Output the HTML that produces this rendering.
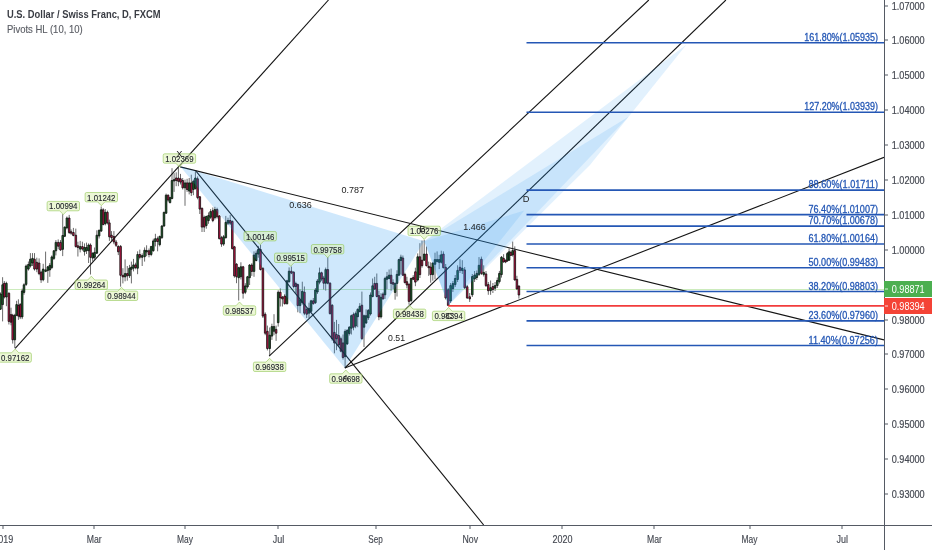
<!DOCTYPE html>
<html><head><meta charset="utf-8"><title>USDCHF chart</title>
<style>html,body{margin:0;padding:0;background:#fff;overflow:hidden}svg{display:block}</style></head>
<body>
<svg width="932" height="550" viewBox="0 0 932 550" font-family="'Liberation Sans', sans-serif">
<rect width="932" height="550" fill="#fff"/>
<defs><clipPath id="cp"><rect x="0" y="0" width="884" height="525"/></clipPath></defs>
<g clip-path="url(#cp)">
<line x1="6" x2="884" y1="289.5" y2="289.5" stroke="#c3e8b0" stroke-opacity="0.85" stroke-width="1"/>
<path d="M0.50 292.4V310.0M2.60 277.2V321.4M4.30 281.0V298.5M6.40 281.7V306.2M8.90 292.4V324.5M11.00 307.7V325.3M12.70 313.8V343.6M14.80 313.8V348.2M16.60 300.8V316.1M18.40 299.3V319.9M20.20 303.0V319.1M22.20 288.6V319.1M24.00 283.3V294.7M26.10 264.5V286.0M28.40 261.5V270.6M30.40 253.1V267.6M32.50 253.1V266.0M34.50 253.1V270.6M36.80 257.7V272.2M39.10 258.4V275.2M41.10 270.6V282.9M43.20 263.8V281.3M45.60 251.6V272.2M47.80 266.0V282.9M49.80 263.0V276.8M51.80 255.4V269.1M53.90 250.0V260.0M55.90 240.1V255.4M58.20 239.4V249.3M60.50 240.1V250.8M62.70 214.2V256.1M64.70 226.4V237.1M66.90 216.5V229.4M69.20 214.9V234.0M71.10 229.4V234.8M73.40 227.9V236.3M75.80 228.6V247.5M77.90 241.7V256.5M80.20 240.9V252.4M82.40 241.7V250.7M84.50 243.4V255.6M86.50 242.6V254.0M88.60 243.4V263.0M90.50 243.4V274.5M92.70 252.4V261.4M94.60 247.5V259.7M96.80 230.3V254.0M99.10 229.5V238.5M101.20 206.5V231.9M103.20 208.2V225.4M105.30 209.0V225.4M107.40 210.6V224.5M109.40 219.6V240.9M111.50 231.1V240.9M113.90 231.1V244.2M116.10 240.0V247.0M118.30 245.3V255.1M120.60 245.0V286.7M122.90 268.2V283.4M125.10 259.4V281.3M127.30 266.0V280.7M129.50 264.9V278.0M131.40 261.6V283.4M133.50 258.9V271.4M135.60 262.7V269.3M137.60 251.3V274.2M139.80 249.6V259.4M142.20 253.4V266.0M144.60 247.4V261.6M146.60 245.3V256.2M149.00 248.5V257.3M151.20 246.4V256.2M153.30 238.7V251.8M155.40 233.8V246.4M157.60 236.5V251.3M159.70 235.5V246.4M161.90 225.0V239.0M164.00 211.6V227.0M166.10 193.6V214.0M168.10 194.4V201.7M170.00 196.8V203.4M172.00 168.2V199.3M174.10 173.1V191.9M176.20 172.3V186.2M178.40 167.4V186.2M180.50 173.9V184.5M182.70 178.0V189.5M185.00 179.6V205.8M187.10 178.8V191.9M189.20 178.0V194.4M191.30 174.7V196.0M193.40 179.6V195.2M195.40 171.5V189.5M197.60 176.4V199.3M199.80 196.0V214.0M202.00 207.5V232.0M204.20 215.6V232.0M206.30 215.6V228.7M208.50 212.4V223.8M210.60 209.1V218.9M212.80 207.5V222.2M214.90 206.8V219.5M217.10 207.7V218.6M219.30 215.0V239.5M221.50 235.9V246.8M223.60 235.0V245.9M225.80 215.9V238.6M228.00 217.7V225.0M230.20 215.0V225.0M232.30 220.5V249.5M234.40 245.9V277.7M236.50 263.2V283.2M238.70 266.8V300.5M240.90 262.3V279.5M243.10 265.9V298.6M245.30 283.2V294.1M247.50 275.9V288.6M249.60 264.1V285.0M251.80 263.2V275.9M254.00 251.4V276.8M256.20 250.5V261.4M258.30 245.9V257.7M260.50 244.6V270.5M262.90 267.0V318.0M265.20 312.3V335.2M267.40 325.6V350.4M269.70 327.5V356.1M271.90 323.7V339.9M274.00 314.2V335.2M276.10 325.6V340.9M278.20 290.3V326.6M280.30 288.4V306.5M282.40 296.0V306.5M284.70 294.1V304.6M287.00 279.8V304.6M289.10 267.4V282.7M291.40 266.5V274.1M293.70 271.2V288.4M295.80 281.7V293.2M297.80 283.6V312.3M300.00 289.4V313.2M302.30 281.7V304.6M304.40 286.5V315.1M306.70 307.5V318.0M309.00 302.7V318.0M311.10 299.8V312.3M313.30 298.0V304.6M315.40 288.0V304.0M317.40 279.0V294.0M319.50 267.6V284.3M321.60 271.7V281.2M323.70 275.9V289.5M325.70 267.6V290.6M327.80 257.1V284.3M330.00 282.2V314.6M332.20 304.2V340.8M334.40 321.9V353.3M336.50 319.9V350.2M338.70 324.0V347.0M340.90 336.6V352.3M343.00 334.5V359.6M345.10 329.3V366.9M347.20 329.3V345.0M349.30 326.1V335.5M351.40 314.6V334.5M353.50 312.5V330.3M355.60 311.5V328.2M357.70 308.3V327.2M359.80 303.1V312.5M361.90 291.6V339.7M364.00 314.6V347.0M366.10 309.4V324.0M368.30 309.0V320.0M370.50 292.4V315.6M372.60 278.5V297.3M374.70 276.8V289.9M376.80 273.5V297.3M378.90 290.7V320.2M381.00 293.2V318.6M383.00 292.4V299.7M385.00 276.8V298.9M387.00 271.9V289.1M389.10 269.5V279.3M391.10 268.6V290.7M393.10 279.3V289.1M395.10 282.6V299.7M397.00 270.3V296.5M398.90 258.8V276.0M400.90 254.7V274.4M402.90 255.5V276.0M404.90 272.7V283.4M406.90 276.8V288.3M409.00 283.4V304.6M411.10 277.6V302.2M413.20 275.2V280.1M415.40 267.7V286.2M417.70 253.4V281.4M419.90 243.2V278.0M422.00 240.5V267.7M424.20 239.8V260.9M426.50 246.6V266.4M428.70 261.6V275.9M430.70 262.3V282.7M432.80 262.3V280.7M435.00 252.7V279.3M437.10 251.4V262.3M439.20 254.8V269.1M441.30 250.7V263.6M443.40 251.4V268.4M445.70 264.0V299.5M448.20 288.0V305.6M450.60 283.0V303.0M452.90 281.0V292.0M455.20 275.0V287.0M457.60 265.3V282.0M460.00 259.2V273.0M462.30 260.2V274.0M464.70 267.0V289.0M467.20 285.0V299.0M469.70 293.0V302.0M472.30 274.0V297.0M474.60 271.0V282.0M476.80 270.4V280.0M479.00 257.1V276.0M481.40 256.6V275.0M483.70 265.3V276.5M486.00 271.0V287.0M488.30 282.0V294.8M490.60 280.5V294.8M492.90 283.0V293.0M495.10 282.0V291.0M497.30 277.5V288.0M499.40 270.9V283.5M501.50 256.0V277.6M503.60 254.2V262.6M505.60 259.6V263.2M507.40 252.0V262.0M509.10 248.2V260.8M510.90 250.6V256.0M512.70 241.6V256.6M514.80 246.4V280.5M516.90 275.8V289.6M518.90 285.4V298.6" stroke="#6c6c6c" stroke-width="1" fill="none"/>
<path d="M-0.30 294.0h1.6v15.2h-1.6zM1.80 284.8h1.6v19.8h-1.6zM5.60 283.3h1.6v13.7h-1.6zM14.00 315.3h1.6v24.5h-1.6zM15.80 304.6h1.6v10.7h-1.6zM21.40 290.9h1.6v26.0h-1.6zM23.20 284.8h1.6v7.6h-1.6zM25.30 266.0h1.6v18.4h-1.6zM27.60 264.5h1.6v4.6h-1.6zM29.60 259.2h1.6v6.8h-1.6zM31.70 258.4h1.6v4.6h-1.6zM42.40 269.1h1.6v10.7h-1.6zM44.80 269.9h1.6v1.5h-1.6zM47.00 266.8h1.6v3.8h-1.6zM49.00 265.3h1.6v4.6h-1.6zM51.00 256.9h1.6v10.7h-1.6zM53.10 250.8h1.6v7.6h-1.6zM55.10 242.4h1.6v8.4h-1.6zM61.90 235.5h1.6v13.8h-1.6zM63.90 227.1h1.6v9.2h-1.6zM66.10 218.0h1.6v9.9h-1.6zM79.40 246.6h1.6v2.5h-1.6zM83.70 247.5h1.6v4.1h-1.6zM85.70 247.5h1.6v3.2h-1.6zM87.80 245.0h1.6v5.7h-1.6zM91.90 253.2h1.6v4.9h-1.6zM93.80 252.4h1.6v4.9h-1.6zM96.00 235.2h1.6v18.0h-1.6zM98.30 230.3h1.6v5.7h-1.6zM100.40 209.8h1.6v21.3h-1.6zM104.50 212.3h1.6v11.4h-1.6zM124.30 273.6h1.6v3.3h-1.6zM128.70 268.2h1.6v7.6h-1.6zM130.60 267.1h1.6v2.2h-1.6zM132.70 264.9h1.6v3.3h-1.6zM136.80 254.5h1.6v13.7h-1.6zM141.40 255.6h1.6v1.7h-1.6zM143.80 250.2h1.6v6.5h-1.6zM145.80 250.5h1.6v1.5h-1.6zM150.40 246.4h1.6v8.1h-1.6zM152.50 240.9h1.6v9.8h-1.6zM154.60 238.7h1.6v2.8h-1.6zM158.90 236.5h1.6v8.2h-1.6zM161.10 226.0h1.6v11.6h-1.6zM163.20 212.4h1.6v13.6h-1.6zM165.30 195.2h1.6v18.0h-1.6zM169.20 197.6h1.6v5.0h-1.6zM171.20 180.5h1.6v18.0h-1.6zM173.30 179.6h1.6v1.4h-1.6zM184.20 182.9h1.6v4.9h-1.6zM188.40 182.9h1.6v8.2h-1.6zM192.60 181.3h1.6v8.2h-1.6zM194.60 178.0h1.6v10.6h-1.6zM205.50 216.5h1.6v9.0h-1.6zM207.70 215.6h1.6v5.0h-1.6zM209.80 211.6h1.6v5.7h-1.6zM214.10 209.5h1.6v8.2h-1.6zM222.80 236.8h1.6v7.3h-1.6zM225.00 222.3h1.6v15.4h-1.6zM227.20 220.5h1.6v2.7h-1.6zM237.90 267.7h1.6v10.0h-1.6zM240.10 266.8h1.6v10.0h-1.6zM244.50 285.9h1.6v6.4h-1.6zM246.70 276.8h1.6v10.0h-1.6zM248.80 265.0h1.6v12.7h-1.6zM253.20 255.0h1.6v16.4h-1.6zM255.40 253.2h1.6v7.3h-1.6zM257.50 249.5h1.6v4.6h-1.6zM268.90 335.2h1.6v13.3h-1.6zM271.10 326.6h1.6v9.5h-1.6zM273.20 326.6h1.6v4.7h-1.6zM277.40 292.2h1.6v30.5h-1.6zM286.20 280.8h1.6v22.9h-1.6zM288.30 271.2h1.6v10.5h-1.6zM299.20 299.8h1.6v5.8h-1.6zM301.50 291.3h1.6v11.4h-1.6zM308.20 308.4h1.6v4.8h-1.6zM310.30 300.8h1.6v10.5h-1.6zM314.60 290.0h1.6v12.7h-1.6zM316.60 281.0h1.6v11.0h-1.6zM318.70 272.8h1.6v9.4h-1.6zM324.90 269.6h1.6v13.6h-1.6zM344.30 331.4h1.6v25.1h-1.6zM346.40 330.3h1.6v13.6h-1.6zM348.50 327.2h1.6v6.3h-1.6zM350.60 315.7h1.6v12.5h-1.6zM354.80 313.6h1.6v12.5h-1.6zM356.90 309.4h1.6v7.3h-1.6zM359.00 306.3h1.6v5.2h-1.6zM363.20 315.7h1.6v11.5h-1.6zM365.30 315.7h1.6v7.3h-1.6zM367.50 310.4h1.6v7.4h-1.6zM369.70 295.0h1.6v19.0h-1.6zM371.80 285.8h1.6v10.7h-1.6zM380.20 297.3h1.6v19.6h-1.6zM384.20 278.5h1.6v16.3h-1.6zM386.20 276.8h1.6v2.5h-1.6zM388.30 275.2h1.6v3.3h-1.6zM394.30 283.4h1.6v9.0h-1.6zM396.20 274.4h1.6v9.0h-1.6zM398.10 259.6h1.6v15.6h-1.6zM400.10 257.2h1.6v3.3h-1.6zM410.30 278.5h1.6v22.1h-1.6zM416.90 256.8h1.6v23.2h-1.6zM423.40 254.1h1.6v6.1h-1.6zM432.00 263.0h1.6v11.6h-1.6zM434.20 259.6h1.6v4.7h-1.6zM436.30 259.6h1.6v2.0h-1.6zM438.40 259.6h1.6v2.7h-1.6zM440.50 254.8h1.6v7.5h-1.6zM449.80 285.6h1.6v15.4h-1.6zM452.10 283.6h1.6v5.1h-1.6zM454.40 278.5h1.6v6.1h-1.6zM456.80 270.4h1.6v9.1h-1.6zM461.50 268.3h1.6v2.3h-1.6zM471.50 276.5h1.6v18.3h-1.6zM473.80 275.0h1.6v4.0h-1.6zM476.00 273.4h1.6v4.1h-1.6zM478.20 265.3h1.6v9.1h-1.6zM482.90 272.4h1.6v2.0h-1.6zM489.80 287.7h1.6v3.0h-1.6zM494.30 285.6h1.6v2.6h-1.6zM496.50 280.5h1.6v5.1h-1.6zM498.60 273.4h1.6v8.2h-1.6zM500.70 257.2h1.6v17.4h-1.6zM506.60 253.6h1.6v7.2h-1.6zM508.30 251.8h1.6v8.4h-1.6zM511.90 250.6h1.6v4.2h-1.6z" fill="#1e6a2e" stroke="#0a0a0a" stroke-width="0.75"/>
<path d="M3.50 283.3h1.6v13.7h-1.6zM8.10 293.2h1.6v28.2h-1.6zM10.20 314.6h1.6v7.6h-1.6zM11.90 315.3h1.6v24.5h-1.6zM17.60 305.4h1.6v10.7h-1.6zM19.40 304.6h1.6v12.3h-1.6zM33.70 259.2h1.6v9.9h-1.6zM36.00 262.3h1.6v6.8h-1.6zM38.30 263.0h1.6v10.7h-1.6zM40.30 272.2h1.6v7.6h-1.6zM57.40 242.4h1.6v3.8h-1.6zM59.70 242.4h1.6v7.6h-1.6zM68.40 218.0h1.6v14.5h-1.6zM70.30 231.7h1.6v1.5h-1.6zM72.60 232.5h1.6v3.0h-1.6zM75.00 235.2h1.6v11.4h-1.6zM77.10 245.8h1.6v1.7h-1.6zM81.60 246.6h1.6v2.5h-1.6zM89.70 245.0h1.6v12.3h-1.6zM102.40 209.8h1.6v14.7h-1.6zM106.60 212.3h1.6v10.6h-1.6zM108.60 222.9h1.6v13.9h-1.6zM110.70 235.2h1.6v2.4h-1.6zM113.10 236.5h1.6v5.5h-1.6zM115.30 242.0h1.6v3.3h-1.6zM117.50 246.4h1.6v5.4h-1.6zM119.80 246.4h1.6v28.9h-1.6zM122.10 275.3h1.6v1.6h-1.6zM126.50 273.6h1.6v2.2h-1.6zM134.80 264.9h1.6v2.7h-1.6zM139.00 254.5h1.6v2.8h-1.6zM148.20 250.7h1.6v3.8h-1.6zM156.80 238.7h1.6v2.8h-1.6zM167.30 195.2h1.6v4.9h-1.6zM175.40 178.0h1.6v2.5h-1.6zM177.60 178.0h1.6v3.3h-1.6zM179.70 178.8h1.6v3.3h-1.6zM181.90 180.5h1.6v7.3h-1.6zM186.30 182.9h1.6v6.6h-1.6zM190.50 182.9h1.6v9.8h-1.6zM196.80 178.8h1.6v18.8h-1.6zM199.00 196.8h1.6v12.3h-1.6zM201.20 208.3h1.6v18.8h-1.6zM203.40 217.3h1.6v9.8h-1.6zM212.00 210.7h1.6v9.9h-1.6zM216.30 209.5h1.6v7.3h-1.6zM218.50 215.9h1.6v22.7h-1.6zM220.70 237.7h1.6v6.4h-1.6zM229.40 220.5h1.6v2.7h-1.6zM231.50 221.4h1.6v27.2h-1.6zM233.60 246.8h1.6v29.1h-1.6zM235.70 264.1h1.6v12.7h-1.6zM242.30 266.8h1.6v26.4h-1.6zM251.00 265.0h1.6v6.4h-1.6zM259.70 249.5h1.6v20.0h-1.6zM262.10 268.4h1.6v47.7h-1.6zM264.40 314.2h1.6v19.0h-1.6zM266.60 331.3h1.6v17.2h-1.6zM275.30 329.4h1.6v3.8h-1.6zM279.50 292.2h1.6v5.7h-1.6zM281.60 297.0h1.6v1.9h-1.6zM283.90 296.0h1.6v7.7h-1.6zM290.60 271.2h1.6v1.9h-1.6zM292.90 272.2h1.6v14.3h-1.6zM295.00 283.6h1.6v2.9h-1.6zM297.00 284.6h1.6v21.0h-1.6zM303.60 292.2h1.6v21.0h-1.6zM305.90 309.4h1.6v4.8h-1.6zM312.50 300.8h1.6v2.9h-1.6zM320.80 272.8h1.6v6.3h-1.6zM322.90 278.0h1.6v5.2h-1.6zM327.00 269.6h1.6v13.6h-1.6zM329.20 283.2h1.6v30.4h-1.6zM331.40 305.2h1.6v33.5h-1.6zM333.60 332.4h1.6v10.5h-1.6zM335.70 334.5h1.6v4.2h-1.6zM337.90 335.5h1.6v9.5h-1.6zM340.10 338.7h1.6v12.5h-1.6zM342.20 342.9h1.6v14.6h-1.6zM352.70 314.6h1.6v12.6h-1.6zM361.10 305.2h1.6v33.5h-1.6zM373.90 283.4h1.6v5.7h-1.6zM376.00 283.4h1.6v13.1h-1.6zM378.10 295.6h1.6v21.3h-1.6zM382.20 294.0h1.6v4.9h-1.6zM390.30 275.2h1.6v8.2h-1.6zM392.30 282.6h1.6v1.6h-1.6zM402.10 258.0h1.6v17.2h-1.6zM404.10 274.4h1.6v8.2h-1.6zM406.10 281.7h1.6v3.3h-1.6zM408.20 284.2h1.6v17.2h-1.6zM412.40 277.6h1.6v1.7h-1.6zM414.60 271.8h1.6v10.3h-1.6zM419.10 256.8h1.6v17.8h-1.6zM421.20 260.2h1.6v5.5h-1.6zM425.70 254.1h1.6v11.6h-1.6zM427.90 266.3h1.6v1.4h-1.6zM429.90 267.1h1.6v7.5h-1.6zM442.60 254.1h1.6v13.6h-1.6zM444.90 267.3h1.6v30.6h-1.6zM447.40 289.7h1.6v15.7h-1.6zM459.20 267.3h1.6v3.1h-1.6zM463.90 269.9h1.6v17.8h-1.6zM466.40 286.7h1.6v11.2h-1.6zM468.90 296.8h1.6v2.1h-1.6zM480.60 259.2h1.6v14.2h-1.6zM485.20 273.9h1.6v11.7h-1.6zM487.50 284.6h1.6v6.1h-1.6zM492.10 286.5h1.6v3.0h-1.6zM502.80 258.4h1.6v3.6h-1.6zM504.80 260.2h1.6v1.8h-1.6zM510.10 252.4h1.6v3.0h-1.6zM514.00 250.6h1.6v29.4h-1.6zM516.10 279.4h1.6v9.6h-1.6zM518.10 286.0h1.6v9.0h-1.6z" fill="#c4184a" stroke="#0a0a0a" stroke-width="0.75"/>

<line x1="15.2" y1="348.4" x2="328.5" y2="0" stroke="#141414" stroke-width="1.1"/>
<line x1="269.1" y1="356.1" x2="648.8" y2="0" stroke="#141414" stroke-width="1.1"/>
<line x1="344.8" y1="368" x2="725.9" y2="0" stroke="#141414" stroke-width="1.1"/>
<line x1="344.8" y1="368" x2="884" y2="157.3" stroke="#141414" stroke-width="1.1"/>
<line x1="180.2" y1="166.9" x2="884" y2="339.9" stroke="#141414" stroke-width="1.1"/>
<line x1="195.4" y1="170.4" x2="483.7" y2="525" stroke="#141414" stroke-width="1.1"/>
<polygon points="180.2,166.2 344.8,368.0 424.2,241.2" fill="#2196f3" fill-opacity="0.215"/>
<polygon points="424.2,241.2 448.5,305.2 524.3,210.6" fill="#2196f3" fill-opacity="0.13"/>
<polygon points="424.2,241.2 448.5,305.2 628.5,116.8" fill="#2196f3" fill-opacity="0.13"/>
<polygon points="424.2,241.2 448.5,305.2 590.0,165.0 686.3,44.8" fill="#2196f3" fill-opacity="0.13"/>
<line x1="526.5" x2="884" y1="42.7" y2="42.7" stroke="#2457b5" stroke-width="1.6"/>
<line x1="526.5" x2="884" y1="112.3" y2="112.3" stroke="#2457b5" stroke-width="1.6"/>
<line x1="526.5" x2="884" y1="190.1" y2="190.1" stroke="#2457b5" stroke-width="1.6"/>
<line x1="526.5" x2="884" y1="214.6" y2="214.6" stroke="#2457b5" stroke-width="1.6"/>
<line x1="526.5" x2="884" y1="226.1" y2="226.1" stroke="#2457b5" stroke-width="1.6"/>
<line x1="526.5" x2="884" y1="244.0" y2="244.0" stroke="#2457b5" stroke-width="1.6"/>
<line x1="526.5" x2="884" y1="267.8" y2="267.8" stroke="#2457b5" stroke-width="1.6"/>
<line x1="526.5" x2="884" y1="291.5" y2="291.5" stroke="#2457b5" stroke-width="1.6"/>
<line x1="526.5" x2="884" y1="320.9" y2="320.9" stroke="#2457b5" stroke-width="1.6"/>
<line x1="526.5" x2="884" y1="345.5" y2="345.5" stroke="#2457b5" stroke-width="1.6"/>
<line x1="448.3" x2="884" y1="305.8" y2="305.8" stroke="#f23c3c" stroke-width="1.8"/>
<text x="878" y="40.7" text-anchor="end" font-size="10.4" fill="#2457b5" stroke="#2457b5" stroke-width="0.3" textLength="73.8" lengthAdjust="spacingAndGlyphs">161.80%(1.05935)</text>
<text x="878" y="110.3" text-anchor="end" font-size="10.4" fill="#2457b5" stroke="#2457b5" stroke-width="0.3" textLength="73.8" lengthAdjust="spacingAndGlyphs">127.20%(1.03939)</text>
<text x="878" y="188.1" text-anchor="end" font-size="10.4" fill="#2457b5" stroke="#2457b5" stroke-width="0.3" textLength="69.5" lengthAdjust="spacingAndGlyphs">88.60%(1.01711)</text>
<text x="878" y="212.6" text-anchor="end" font-size="10.4" fill="#2457b5" stroke="#2457b5" stroke-width="0.3" textLength="69.5" lengthAdjust="spacingAndGlyphs">76.40%(1.01007)</text>
<text x="878" y="224.1" text-anchor="end" font-size="10.4" fill="#2457b5" stroke="#2457b5" stroke-width="0.3" textLength="69.5" lengthAdjust="spacingAndGlyphs">70.70%(1.00678)</text>
<text x="878" y="242.0" text-anchor="end" font-size="10.4" fill="#2457b5" stroke="#2457b5" stroke-width="0.3" textLength="69.5" lengthAdjust="spacingAndGlyphs">61.80%(1.00164)</text>
<text x="878" y="265.8" text-anchor="end" font-size="10.4" fill="#2457b5" stroke="#2457b5" stroke-width="0.3" textLength="69.5" lengthAdjust="spacingAndGlyphs">50.00%(0.99483)</text>
<text x="878" y="289.5" text-anchor="end" font-size="10.4" fill="#2457b5" stroke="#2457b5" stroke-width="0.3" textLength="69.5" lengthAdjust="spacingAndGlyphs">38.20%(0.98803)</text>
<text x="878" y="318.9" text-anchor="end" font-size="10.4" fill="#2457b5" stroke="#2457b5" stroke-width="0.3" textLength="69.5" lengthAdjust="spacingAndGlyphs">23.60%(0.97960)</text>
<text x="878" y="343.5" text-anchor="end" font-size="10.4" fill="#2457b5" stroke="#2457b5" stroke-width="0.3" textLength="69.5" lengthAdjust="spacingAndGlyphs">11.40%(0.97256)</text>
<path d="M48.6 201.4h29.4q1.5 0 1.5 1.5v6.4q0 1.5 -1.5 1.5H66.9L63.3 214.6L59.7 210.8H48.6q-1.5 0 -1.5 -1.5v-6.4q0 -1.5 1.5 -1.5z" fill="#dcf0b4" fill-opacity="0.55" stroke="#8bc34a" stroke-opacity="0.55" stroke-width="1"/><text x="63.3" y="209.4" text-anchor="middle" font-size="9.6" fill="#20232b" stroke="#20232b" stroke-width="0.12" textLength="28.4" lengthAdjust="spacingAndGlyphs">1.00994</text>

<path d="M86.6 192.5h29.4q1.5 0 1.5 1.5v6.4q0 1.5 -1.5 1.5H104.9L101.3 205.7L97.7 201.9H86.6q-1.5 0 -1.5 -1.5v-6.4q0 -1.5 1.5 -1.5z" fill="#dcf0b4" fill-opacity="0.55" stroke="#8bc34a" stroke-opacity="0.55" stroke-width="1"/><text x="101.3" y="200.5" text-anchor="middle" font-size="9.6" fill="#20232b" stroke="#20232b" stroke-width="0.12" textLength="28.4" lengthAdjust="spacingAndGlyphs">1.01242</text>

<path d="M164.7 153.8h29.4q1.5 0 1.5 1.5v6.4q0 1.5 -1.5 1.5H183.0L179.4 167.0L175.8 163.2H164.7q-1.5 0 -1.5 -1.5v-6.4q0 -1.5 1.5 -1.5z" fill="#dcf0b4" fill-opacity="0.55" stroke="#8bc34a" stroke-opacity="0.55" stroke-width="1"/><text x="179.4" y="161.8" text-anchor="middle" font-size="9.6" fill="#20232b" stroke="#20232b" stroke-width="0.12" textLength="28.4" lengthAdjust="spacingAndGlyphs">1.02369</text>

<path d="M245.5 231.5h29.4q1.5 0 1.5 1.5v6.4q0 1.5 -1.5 1.5H263.8L260.2 244.7L256.6 240.9H245.5q-1.5 0 -1.5 -1.5v-6.4q0 -1.5 1.5 -1.5z" fill="#dcf0b4" fill-opacity="0.55" stroke="#8bc34a" stroke-opacity="0.55" stroke-width="1"/><text x="260.2" y="239.5" text-anchor="middle" font-size="9.6" fill="#20232b" stroke="#20232b" stroke-width="0.12" textLength="28.4" lengthAdjust="spacingAndGlyphs">1.00146</text>

<path d="M276.0 253.1h29.4q1.5 0 1.5 1.5v6.4q0 1.5 -1.5 1.5H294.3L290.7 266.3L287.1 262.5H276.0q-1.5 0 -1.5 -1.5v-6.4q0 -1.5 1.5 -1.5z" fill="#dcf0b4" fill-opacity="0.55" stroke="#8bc34a" stroke-opacity="0.55" stroke-width="1"/><text x="290.7" y="261.1" text-anchor="middle" font-size="9.6" fill="#20232b" stroke="#20232b" stroke-width="0.12" textLength="28.4" lengthAdjust="spacingAndGlyphs">0.99515</text>

<path d="M312.9 244.5h29.4q1.5 0 1.5 1.5v6.4q0 1.5 -1.5 1.5H331.2L327.6 257.7L324.0 253.9H312.9q-1.5 0 -1.5 -1.5v-6.4q0 -1.5 1.5 -1.5z" fill="#dcf0b4" fill-opacity="0.55" stroke="#8bc34a" stroke-opacity="0.55" stroke-width="1"/><text x="327.6" y="252.5" text-anchor="middle" font-size="9.6" fill="#20232b" stroke="#20232b" stroke-width="0.12" textLength="28.4" lengthAdjust="spacingAndGlyphs">0.99758</text>

<path d="M409.5 226.2h29.4q1.5 0 1.5 1.5v6.4q0 1.5 -1.5 1.5H427.8L424.2 239.4L420.6 235.6H409.5q-1.5 0 -1.5 -1.5v-6.4q0 -1.5 1.5 -1.5z" fill="#dcf0b4" fill-opacity="0.55" stroke="#8bc34a" stroke-opacity="0.55" stroke-width="1"/><text x="424.2" y="234.2" text-anchor="middle" font-size="9.6" fill="#20232b" stroke="#20232b" stroke-width="0.12" textLength="28.4" lengthAdjust="spacingAndGlyphs">1.00276</text>

<path d="M0.5 352.8H11.6L15.2 349.0L18.8 352.8H29.9q1.5 0 1.5 1.5v6.4q0 1.5 -1.5 1.5h-29.4q-1.5 0 -1.5 -1.5v-6.4q0 -1.5 1.5 -1.5z" fill="#dcf0b4" fill-opacity="0.55" stroke="#8bc34a" stroke-opacity="0.55" stroke-width="1"/><text x="15.2" y="360.8" text-anchor="middle" font-size="9.6" fill="#20232b" stroke="#20232b" stroke-width="0.12" textLength="28.4" lengthAdjust="spacingAndGlyphs">0.97162</text>

<path d="M76.6 280.0H87.7L91.3 276.2L94.9 280.0H106.0q1.5 0 1.5 1.5v6.4q0 1.5 -1.5 1.5h-29.4q-1.5 0 -1.5 -1.5v-6.4q0 -1.5 1.5 -1.5z" fill="#dcf0b4" fill-opacity="0.55" stroke="#8bc34a" stroke-opacity="0.55" stroke-width="1"/><text x="91.3" y="288.0" text-anchor="middle" font-size="9.6" fill="#20232b" stroke="#20232b" stroke-width="0.12" textLength="28.4" lengthAdjust="spacingAndGlyphs">0.99264</text>

<path d="M106.8 291.1H117.9L121.5 287.3L125.1 291.1H136.2q1.5 0 1.5 1.5v6.4q0 1.5 -1.5 1.5h-29.4q-1.5 0 -1.5 -1.5v-6.4q0 -1.5 1.5 -1.5z" fill="#dcf0b4" fill-opacity="0.55" stroke="#8bc34a" stroke-opacity="0.55" stroke-width="1"/><text x="121.5" y="299.1" text-anchor="middle" font-size="9.6" fill="#20232b" stroke="#20232b" stroke-width="0.12" textLength="28.4" lengthAdjust="spacingAndGlyphs">0.98944</text>

<path d="M224.8 305.8H235.9L239.5 302.0L243.1 305.8H254.2q1.5 0 1.5 1.5v6.4q0 1.5 -1.5 1.5h-29.4q-1.5 0 -1.5 -1.5v-6.4q0 -1.5 1.5 -1.5z" fill="#dcf0b4" fill-opacity="0.55" stroke="#8bc34a" stroke-opacity="0.55" stroke-width="1"/><text x="239.5" y="313.8" text-anchor="middle" font-size="9.6" fill="#20232b" stroke="#20232b" stroke-width="0.12" textLength="28.4" lengthAdjust="spacingAndGlyphs">0.98537</text>

<path d="M254.9 362.1H266.0L269.6 358.3L273.2 362.1H284.3q1.5 0 1.5 1.5v6.4q0 1.5 -1.5 1.5h-29.4q-1.5 0 -1.5 -1.5v-6.4q0 -1.5 1.5 -1.5z" fill="#dcf0b4" fill-opacity="0.55" stroke="#8bc34a" stroke-opacity="0.55" stroke-width="1"/><text x="269.6" y="370.1" text-anchor="middle" font-size="9.6" fill="#20232b" stroke="#20232b" stroke-width="0.12" textLength="28.4" lengthAdjust="spacingAndGlyphs">0.96938</text>

<path d="M331.1 373.8H342.2L345.8 370.0L349.4 373.8H360.5q1.5 0 1.5 1.5v6.4q0 1.5 -1.5 1.5h-29.4q-1.5 0 -1.5 -1.5v-6.4q0 -1.5 1.5 -1.5z" fill="#dcf0b4" fill-opacity="0.55" stroke="#8bc34a" stroke-opacity="0.55" stroke-width="1"/><text x="345.8" y="381.8" text-anchor="middle" font-size="9.6" fill="#20232b" stroke="#20232b" stroke-width="0.12" textLength="28.4" lengthAdjust="spacingAndGlyphs">0.96698</text>

<path d="M394.9 309.1H406.0L409.6 305.3L413.2 309.1H424.3q1.5 0 1.5 1.5v6.4q0 1.5 -1.5 1.5h-29.4q-1.5 0 -1.5 -1.5v-6.4q0 -1.5 1.5 -1.5z" fill="#dcf0b4" fill-opacity="0.55" stroke="#8bc34a" stroke-opacity="0.55" stroke-width="1"/><text x="409.6" y="317.1" text-anchor="middle" font-size="9.6" fill="#20232b" stroke="#20232b" stroke-width="0.12" textLength="28.4" lengthAdjust="spacingAndGlyphs">0.98438</text>

<path d="M433.9 311.2H445.0L448.6 307.4L452.2 311.2H463.3q1.5 0 1.5 1.5v6.4q0 1.5 -1.5 1.5h-29.4q-1.5 0 -1.5 -1.5v-6.4q0 -1.5 1.5 -1.5z" fill="#dcf0b4" fill-opacity="0.55" stroke="#8bc34a" stroke-opacity="0.55" stroke-width="1"/><text x="448.6" y="319.2" text-anchor="middle" font-size="9.6" fill="#20232b" stroke="#20232b" stroke-width="0.12" textLength="28.4" lengthAdjust="spacingAndGlyphs">0.98394</text>

<text x="179.3" y="157.4" text-anchor="middle" font-size="9.3" fill="#222" >X</text>
<text x="345.8" y="381.0" text-anchor="middle" font-size="9.3" fill="#222" >A</text>
<text x="422.4" y="232.2" text-anchor="middle" font-size="9.3" fill="#222" >B</text>
<text x="449.2" y="318.6" text-anchor="middle" font-size="9.3" fill="#222" >C</text>
<text x="526" y="201.8" text-anchor="middle" font-size="9.3" fill="#222" >D</text>
<text x="300.6" y="208.4" text-anchor="middle" font-size="9.3" fill="#222" textLength="22.5" lengthAdjust="spacingAndGlyphs">0.636</text>
<text x="352.7" y="193.2" text-anchor="middle" font-size="9.3" fill="#222" textLength="22.5" lengthAdjust="spacingAndGlyphs">0.787</text>
<text x="396.6" y="340.9" text-anchor="middle" font-size="9.3" fill="#222" textLength="17" lengthAdjust="spacingAndGlyphs">0.51</text>
<text x="474.4" y="230.0" text-anchor="middle" font-size="9.3" fill="#222" textLength="22.5" lengthAdjust="spacingAndGlyphs">1.466</text>
</g>
<text x="7" y="18.2" font-size="11" font-weight="bold" fill="#3a3d44" textLength="153.6" lengthAdjust="spacingAndGlyphs">U.S. Dollar / Swiss Franc, D, FXCM</text>
<text x="7" y="33.3" font-size="11" fill="#5a5d64" stroke="#5a5d64" stroke-width="0.15" textLength="75.7" lengthAdjust="spacingAndGlyphs">Pivots HL (10, 10)</text>
<rect x="884" y="0" width="1" height="550" fill="#555a64"/>
<rect x="0" y="525" width="932" height="1" fill="#555a64"/>
<rect x="885" y="5.5" width="3" height="1" fill="#555a64"/>
<text x="891.7" y="9.5" font-size="10.6" fill="#454952" stroke="#454952" stroke-width="0.2" textLength="33" lengthAdjust="spacingAndGlyphs">1.07000</text>
<rect x="885" y="39.5" width="3" height="1" fill="#555a64"/>
<text x="891.7" y="44.4" font-size="10.6" fill="#454952" stroke="#454952" stroke-width="0.2" textLength="33" lengthAdjust="spacingAndGlyphs">1.06000</text>
<rect x="885" y="74.5" width="3" height="1" fill="#555a64"/>
<text x="891.7" y="79.3" font-size="10.6" fill="#454952" stroke="#454952" stroke-width="0.2" textLength="33" lengthAdjust="spacingAndGlyphs">1.05000</text>
<rect x="885" y="109.5" width="3" height="1" fill="#555a64"/>
<text x="891.7" y="114.2" font-size="10.6" fill="#454952" stroke="#454952" stroke-width="0.2" textLength="33" lengthAdjust="spacingAndGlyphs">1.04000</text>
<rect x="885" y="144.5" width="3" height="1" fill="#555a64"/>
<text x="891.7" y="149.1" font-size="10.6" fill="#454952" stroke="#454952" stroke-width="0.2" textLength="33" lengthAdjust="spacingAndGlyphs">1.03000</text>
<rect x="885" y="179.5" width="3" height="1" fill="#555a64"/>
<text x="891.7" y="184.0" font-size="10.6" fill="#454952" stroke="#454952" stroke-width="0.2" textLength="33" lengthAdjust="spacingAndGlyphs">1.02000</text>
<rect x="885" y="214.5" width="3" height="1" fill="#555a64"/>
<text x="891.7" y="218.9" font-size="10.6" fill="#454952" stroke="#454952" stroke-width="0.2" textLength="33" lengthAdjust="spacingAndGlyphs">1.01000</text>
<rect x="885" y="249.5" width="3" height="1" fill="#555a64"/>
<text x="891.7" y="253.8" font-size="10.6" fill="#454952" stroke="#454952" stroke-width="0.2" textLength="33" lengthAdjust="spacingAndGlyphs">1.00000</text>
<rect x="885" y="284.5" width="3" height="1" fill="#555a64"/>
<rect x="885" y="319.5" width="3" height="1" fill="#555a64"/>
<text x="891.7" y="323.5" font-size="10.6" fill="#454952" stroke="#454952" stroke-width="0.2" textLength="33" lengthAdjust="spacingAndGlyphs">0.98000</text>
<rect x="885" y="353.5" width="3" height="1" fill="#555a64"/>
<text x="891.7" y="358.4" font-size="10.6" fill="#454952" stroke="#454952" stroke-width="0.2" textLength="33" lengthAdjust="spacingAndGlyphs">0.97000</text>
<rect x="885" y="388.5" width="3" height="1" fill="#555a64"/>
<text x="891.7" y="393.3" font-size="10.6" fill="#454952" stroke="#454952" stroke-width="0.2" textLength="33" lengthAdjust="spacingAndGlyphs">0.96000</text>
<rect x="885" y="423.5" width="3" height="1" fill="#555a64"/>
<text x="891.7" y="428.2" font-size="10.6" fill="#454952" stroke="#454952" stroke-width="0.2" textLength="33" lengthAdjust="spacingAndGlyphs">0.95000</text>
<rect x="885" y="458.5" width="3" height="1" fill="#555a64"/>
<text x="891.7" y="463.1" font-size="10.6" fill="#454952" stroke="#454952" stroke-width="0.2" textLength="33" lengthAdjust="spacingAndGlyphs">0.94000</text>
<rect x="885" y="493.5" width="3" height="1" fill="#555a64"/>
<text x="891.7" y="498.0" font-size="10.6" fill="#454952" stroke="#454952" stroke-width="0.2" textLength="33" lengthAdjust="spacingAndGlyphs">0.93000</text>
<rect x="884" y="281" width="48" height="16" fill="#4caf50"/>
<rect x="885" y="288.5" width="3" height="1" fill="#d8f0d8"/>
<text x="891.7" y="292.7" font-size="10" fill="#fff" textLength="33" lengthAdjust="spacingAndGlyphs">0.98871</text>
<rect x="884" y="298" width="48" height="16" fill="#f44336"/>
<rect x="885" y="305.5" width="3" height="1" fill="#fde0dd"/>
<text x="891.7" y="309.7" font-size="10" fill="#fff" textLength="33" lengthAdjust="spacingAndGlyphs">0.98394</text>
<rect x="2.5" y="526" width="1" height="3" fill="#555a64"/>
<text x="3.3" y="543" font-size="10.4" fill="#454952" stroke="#454952" stroke-width="0.15" text-anchor="middle" textLength="20" lengthAdjust="spacingAndGlyphs">2019</text>
<rect x="93.5" y="526" width="1" height="3" fill="#555a64"/>
<text x="94.2" y="543" font-size="10.4" fill="#454952" stroke="#454952" stroke-width="0.15" text-anchor="middle" textLength="15" lengthAdjust="spacingAndGlyphs">Mar</text>
<rect x="184.5" y="526" width="1" height="3" fill="#555a64"/>
<text x="185" y="543" font-size="10.4" fill="#454952" stroke="#454952" stroke-width="0.15" text-anchor="middle" textLength="16" lengthAdjust="spacingAndGlyphs">May</text>
<rect x="277.5" y="526" width="1" height="3" fill="#555a64"/>
<text x="278.5" y="543" font-size="10.4" fill="#454952" stroke="#454952" stroke-width="0.15" text-anchor="middle" textLength="11.5" lengthAdjust="spacingAndGlyphs">Jul</text>
<rect x="375.5" y="526" width="1" height="3" fill="#555a64"/>
<text x="375.5" y="543" font-size="10.4" fill="#454952" stroke="#454952" stroke-width="0.15" text-anchor="middle" textLength="14.5" lengthAdjust="spacingAndGlyphs">Sep</text>
<rect x="469.5" y="526" width="1" height="3" fill="#555a64"/>
<text x="470.3" y="543" font-size="10.4" fill="#454952" stroke="#454952" stroke-width="0.15" text-anchor="middle" textLength="15.5" lengthAdjust="spacingAndGlyphs">Nov</text>
<rect x="561.5" y="526" width="1" height="3" fill="#555a64"/>
<text x="562.5" y="543" font-size="10.4" fill="#454952" stroke="#454952" stroke-width="0.15" text-anchor="middle" textLength="20" lengthAdjust="spacingAndGlyphs">2020</text>
<rect x="653.5" y="526" width="1" height="3" fill="#555a64"/>
<text x="654.5" y="543" font-size="10.4" fill="#454952" stroke="#454952" stroke-width="0.15" text-anchor="middle" textLength="15" lengthAdjust="spacingAndGlyphs">Mar</text>
<rect x="749.5" y="526" width="1" height="3" fill="#555a64"/>
<text x="749.5" y="543" font-size="10.4" fill="#454952" stroke="#454952" stroke-width="0.15" text-anchor="middle" textLength="16" lengthAdjust="spacingAndGlyphs">May</text>
<rect x="841.5" y="526" width="1" height="3" fill="#555a64"/>
<text x="842.3" y="543" font-size="10.4" fill="#454952" stroke="#454952" stroke-width="0.15" text-anchor="middle" textLength="11.5" lengthAdjust="spacingAndGlyphs">Jul</text>
</svg>
</body></html>
